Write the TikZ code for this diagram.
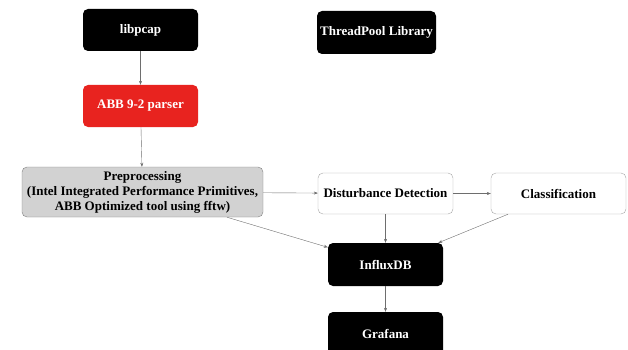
\documentclass[tikz,border=0pt]{standalone}
\usepackage{fontspec}
\setmainfont{Liberation Serif}
\usetikzlibrary{arrows.meta}
\definecolor{parserred}{HTML}{E8231F}
\definecolor{pregray}{HTML}{D2D2D2}
\definecolor{linkgray}{HTML}{6E6E6E}
\begin{document}
\begin{tikzpicture}[x=1pt,y=-1pt]
    \tikzstyle{every node}+=[font=\bfseries\fontsize{13}{15}\selectfont, align=center, rounded corners=5pt, inner sep=1pt]
    \tikzstyle{blackbox}=[fill=black, text=white, minimum width=115pt, minimum height=42pt]
    \tikzstyle{whitebox}=[draw=gray!70, fill=white, minimum width=135pt, minimum height=41pt]
    \tikzstyle{link}=[draw=linkgray, line width=0.4pt, -{Stealth[length=4pt,width=3pt]}]
    \useasboundingbox (0,0) rectangle (628,350);
    \node [blackbox] (libpcap) at (140.5,30) {libpcap};
    \node [blackbox, minimum width=119pt, minimum height=43pt] (pool) at (376.5,32.5) {ThreadPool Library};
    \node [blackbox, fill=parserred] (parser) at (140.5,106) {ABB 9-2 parser};
    \node [draw=gray, fill=pregray, minimum width=241pt, minimum height=50pt] (pre) at (142.5,192)
        {Preprocessing\\(Intel Integrated Performance Primitives,\\ABB Optimized tool using fftw)};
    \node [whitebox] (detect) at (385.5,193.5) {Disturbance Detection};
    \node [whitebox] (class) at (558.5,193.5) {Classification};
    \node [blackbox, minimum height=43pt] (influx) at (385.5,264.5) {InfluxDB};
    \node [blackbox, minimum height=43pt] (grafana) at (385.5,333.5) {Grafana};
    \draw [link] (libpcap) -- (parser);
    \draw [link] (parser) -- (pre);
    \draw [link] (pre) -- (detect);
    \draw [link] (detect) -- (class);
    \draw [link] (detect) -- (influx);
    \draw [link] (pre) -- (influx);
    \draw [link] (class) -- (influx);
    \draw [link] (influx) -- (grafana);
\end{tikzpicture}
\end{document}
